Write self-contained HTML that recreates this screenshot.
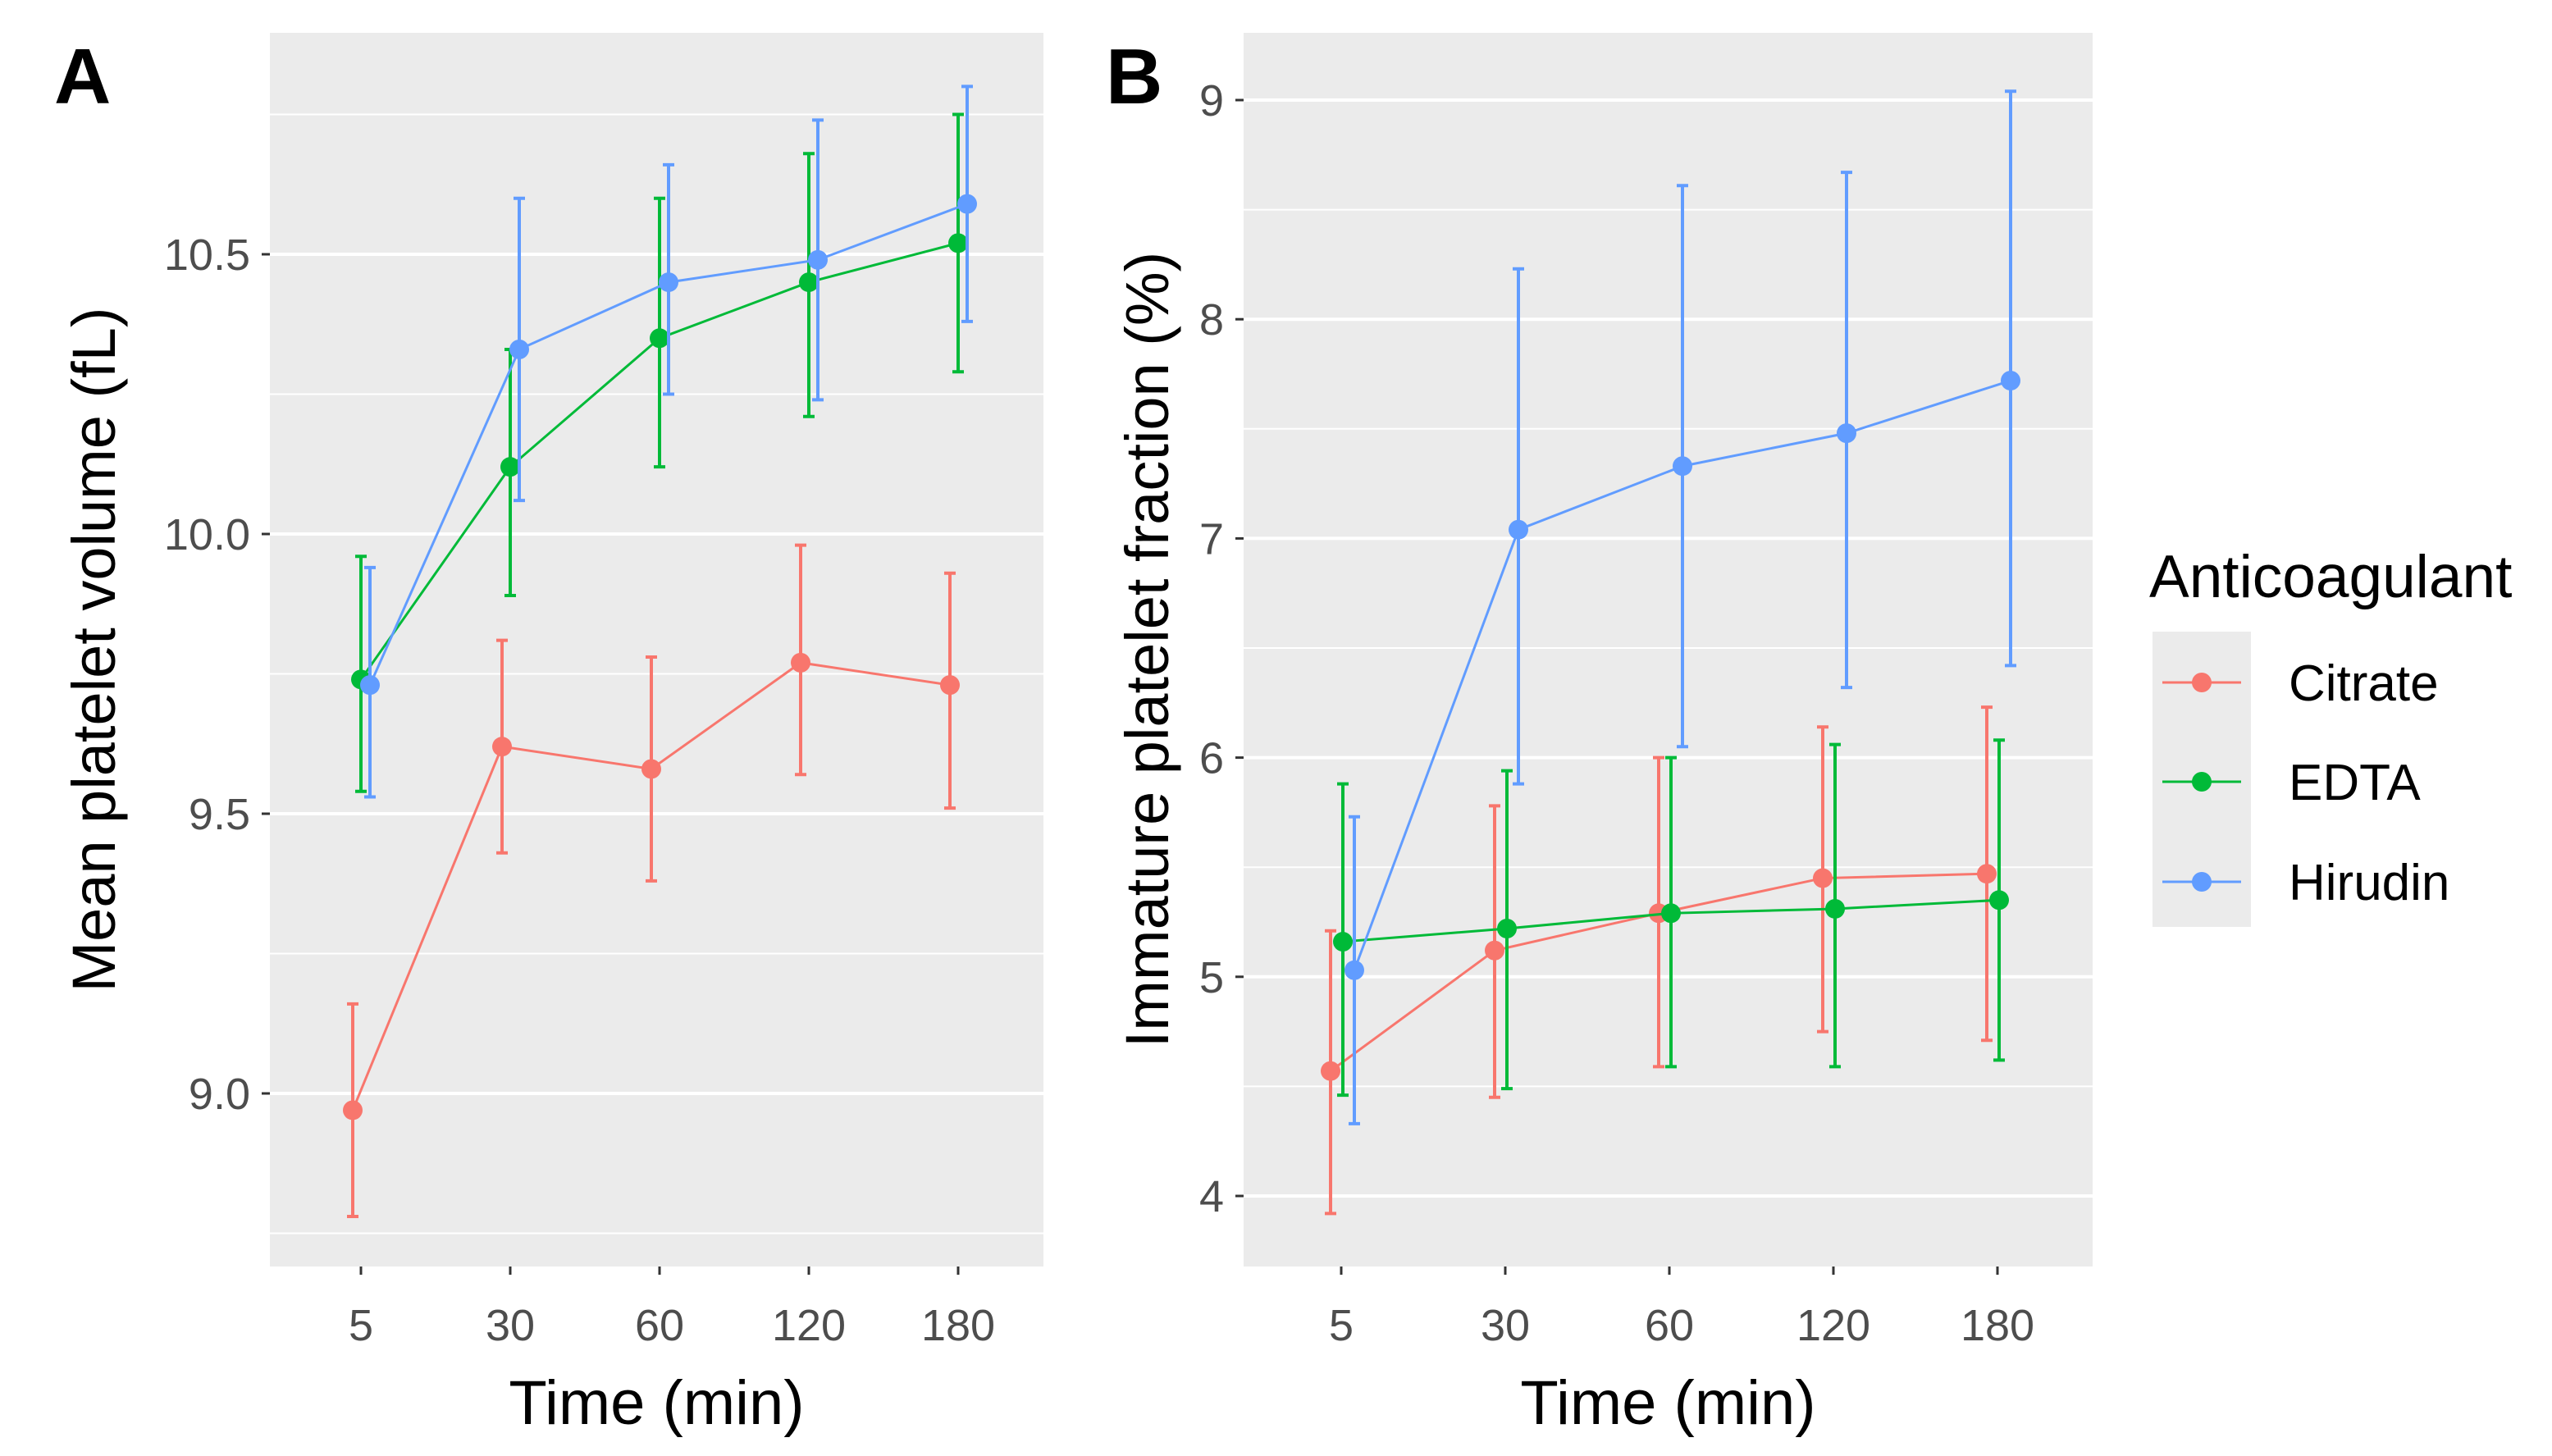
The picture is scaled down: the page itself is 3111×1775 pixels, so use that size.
<!DOCTYPE html>
<html><head><meta charset="utf-8"><style>
html,body{margin:0;padding:0;background:#fff}
svg{display:block;font-family:"Liberation Sans",Arial,sans-serif}
</style></head><body>
<svg id="fig" width="3111" height="1775" viewBox="0 0 3111 1775" xmlns="http://www.w3.org/2000/svg"></svg>
<script>
const categories = ["5","30","60","120","180"];
const seriesNames = ["Citrate","EDTA","Hirudin"];
const colors = ["#F8766D","#00BA38","#619CFF"];
// Panel A: mean platelet volume
const aCitrate = [8.97,9.62,9.58,9.77,9.73];
const aCitrateLo = [8.78,9.43,9.38,9.57,9.51];
const aCitrateHi = [9.16,9.81,9.78,9.98,9.93];
const aEdta = [9.74,10.12,10.35,10.45,10.52];
const aEdtaLo = [9.54,9.89,10.12,10.21,10.29];
const aEdtaHi = [9.96,10.33,10.60,10.68,10.75];
const aHirudin = [9.73,10.33,10.45,10.49,10.59];
const aHirudinLo = [9.53,10.06,10.25,10.24,10.38];
const aHirudinHi = [9.94,10.60,10.66,10.74,10.80];
const aTicks = [9.0,9.5,10.0,10.5];
const aTickLabels = ["9.0","9.5","10.0","10.5"];
// Panel B: immature platelet fraction
const bCitrate = [4.57,5.12,5.29,5.45,5.47];
const bCitrateLo = [3.92,4.45,4.59,4.75,4.71];
const bCitrateHi = [5.21,5.78,6.00,6.14,6.23];
const bEdta = [5.16,5.22,5.29,5.31,5.35];
const bEdtaLo = [4.46,4.49,4.59,4.59,4.62];
const bEdtaHi = [5.88,5.94,6.00,6.06,6.08];
const bHirudin = [5.03,7.04,7.33,7.48,7.72];
const bHirudinLo = [4.33,5.88,6.05,6.32,6.42];
const bHirudinHi = [5.73,8.23,8.61,8.67,9.04];
const bTicks = [4,5,6,7,8,9];
const bTickLabels = ["4","5","6","7","8","9"];

const NS="http://www.w3.org/2000/svg";
const svg=document.getElementById('fig');
function mk(tag,attrs,parent){const e=document.createElementNS(NS,tag);for(const k in attrs)e.setAttribute(k,attrs[k]);(parent||svg).appendChild(e);return e;}

function panel(opt){
  const g=mk('g',{});
  
  
  const {x0,x1,y0,y1}=opt;
  const bg=mk('rect',{x:x0,y:y0,width:x1-x0,height:y1-y0,fill:'#EBEBEB'},g);
  
  
  const yS=v=>opt.yRef-(v-opt.vRef)*opt.pxPerUnit;
  const xS=i=>opt.xFirst+i*opt.xStep;
  for(let i=0;i<opt.ticks.length+1;i++){
    const v=(i===0?opt.ticks[0]-opt.tickStep/2:opt.ticks[i-1]+opt.tickStep/2);
    const y=yS(v); if(y<y0||y>y1) continue;
    const l=mk('line',{x1:x0,x2:x1,y1:y,y2:y,stroke:'#fff','stroke-width':2},g);
    
    
  }
  opt.ticks.forEach((v,i)=>{
    const y=yS(v);
    const l=mk('line',{x1:x0,x2:x1,y1:y,y2:y,stroke:'#fff','stroke-width':4},g);
    
    
    mk('line',{x1:x0-10,x2:x0,y1:y,y2:y,stroke:'#333','stroke-width':3},g);
    const t=mk('text',{x:x0-24,y:y+19,'text-anchor':'end','font-size':54,fill:'#4D4D4D'},g);
    t.textContent=opt.tickLabels[i];
    
    
  });
  categories.forEach((c,i)=>{
    const x=xS(i);
    mk('line',{x1:x,x2:x,y1:y1,y2:y1+10,stroke:'#333','stroke-width':3},g);
    const t=mk('text',{x:x,y:y1+90,'text-anchor':'middle','font-size':54,fill:'#4D4D4D'},g);
    t.textContent=c;
    
    
  });
  opt.series.forEach((s,si)=>{
    const col=colors[si], dx=opt.dodge[si];
    const pts=s.mean.map((v,i)=>[xS(i)+dx,yS(v)]);
    const line=mk('polyline',{points:pts.map(p=>p.join(',')).join(' '),fill:'none',stroke:col,'stroke-width':3},g);
    
    
    s.mean.forEach((v,i)=>{
      const x=xS(i)+dx, ylo=yS(s.lo[i]), yhi=yS(s.hi[i]);
      const eb=mk('path',{d:`M${x-7},${yhi}H${x+7}M${x},${yhi}V${ylo}M${x-7},${ylo}H${x+7}`,stroke:col,'stroke-width':4,fill:'none'},g);
      
      
      const p=mk('circle',{cx:x,cy:yS(v),r:12,fill:col},g);
      
      
    });
  });
  const xt=mk('text',{x:(x0+x1)/2,y:1736,'text-anchor':'middle','font-size':76,fill:'#000'},g);
  xt.textContent='Time (min)';
  
  
  const yt=mk('text',{x:0,y:0,'text-anchor':'middle','font-size':74,fill:'#000',transform:`translate(${opt.yTitleX},${(y0+y1)/2}) rotate(-90)`},g);
  yt.textContent=opt.yTitle;
  
  
  const lt=mk('text',{x:opt.letterX,y:126,'font-size':96,'font-weight':'bold',fill:'#000'},g);
  lt.textContent=opt.letter;
  
  
}

panel({name:'panel-a',letter:'A',letterX:66,x0:329,x1:1272,y0:40,y1:1544,yRef:1333,vRef:9.0,pxPerUnit:682,
  xFirst:440,xStep:182,dodge:[-10,0,11],ticks:aTicks,tickLabels:aTickLabels,tickStep:0.5,
  yTitle:'Mean platelet volume (fL)',yTitleX:140,
  series:[{mean:aCitrate,lo:aCitrateLo,hi:aCitrateHi},{mean:aEdta,lo:aEdtaLo,hi:aEdtaHi},{mean:aHirudin,lo:aHirudinLo,hi:aHirudinHi}]});
panel({name:'panel-b',letter:'B',letterX:1348,x0:1516,x1:2551,y0:40,y1:1544,yRef:1458,vRef:4,pxPerUnit:267.2,
  xFirst:1635,xStep:200,dodge:[-13,2,16],ticks:bTicks,tickLabels:bTickLabels,tickStep:1,
  yTitle:'Immature platelet fraction (%)',yTitleX:1424,
  series:[{mean:bCitrate,lo:bCitrateLo,hi:bCitrateHi},{mean:bEdta,lo:bEdtaLo,hi:bEdtaHi},{mean:bHirudin,lo:bHirudinLo,hi:bHirudinHi}]});

const lg=mk('g',{});


const ltitle=mk('text',{x:2620,y:728,'font-size':73,fill:'#000'},lg);
ltitle.textContent='Anticoagulant';


mk('rect',{x:2624,y:770,width:120,height:360,fill:'#EBEBEB'},lg);
const legY=[832,953,1075];
seriesNames.forEach((n,i)=>{
  const e=mk('g',{},lg);
  
  
  mk('line',{x1:2636,x2:2732,y1:legY[i],y2:legY[i],stroke:colors[i],'stroke-width':3},e);
  mk('circle',{cx:2684,cy:legY[i],r:12,fill:colors[i]},e);
  const t=mk('text',{x:2790,y:legY[i]+22,'font-size':62,fill:'#000'},e);
  t.textContent=n;
});
</script>
</body></html>
